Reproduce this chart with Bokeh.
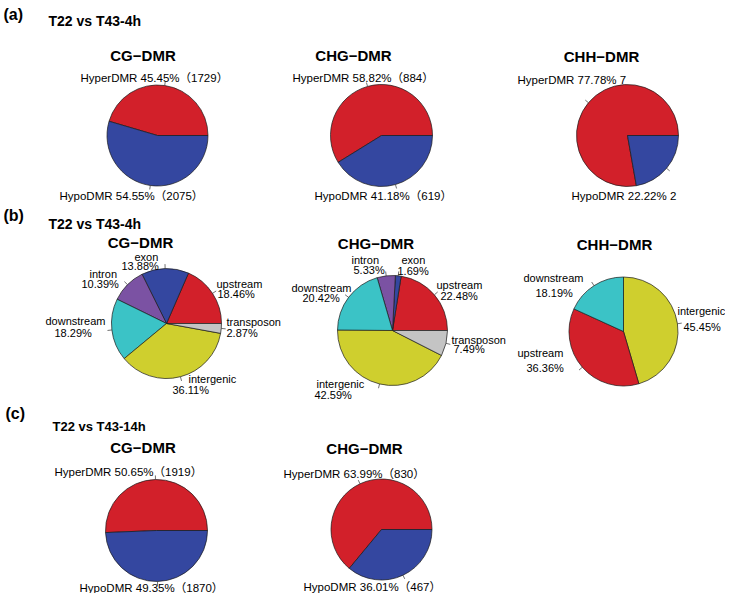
import math
from bokeh.plotting import figure
from bokeh.models import Range1d, ColumnDataSource
from bokeh.embed import file_html
from bokeh.resources import INLINE
from bokeh.core.properties import value

# ---------------- data ----------------
dmr_types = ["HyperDMR", "HypoDMR"]

a_cg_pct = [45.45, 54.55]
a_cg_n = [1729, 2075]
a_chg_pct = [58.82, 41.18]
a_chg_n = [884, 619]
a_chh_pct = [77.78, 22.22]
a_chh_n = [7, 2]

b_cg_regions = ["upstream", "exon", "intron", "downstream", "intergenic", "transposon"]
b_cg_pct = [18.46, 13.88, 10.39, 18.29, 36.11, 2.87]
b_chg_regions = ["upstream", "exon", "intron", "downstream", "intergenic", "transposon"]
b_chg_pct = [22.48, 1.69, 5.33, 20.42, 42.59, 7.49]
b_chh_regions = ["intergenic", "upstream", "downstream"]
b_chh_pct = [45.45, 36.36, 18.19]

c_cg_pct = [50.65, 49.35]
c_cg_n = [1919, 1870]
c_chg_pct = [63.99, 36.01]
c_chg_n = [830, 467]

# ---------------- styles ----------------
COL = {
    "HyperDMR": "#D2202A", "HypoDMR": "#3447A0",
    "upstream": "#D2202A", "exon": "#3447A0", "intron": "#7B52A3",
    "downstream": "#3BC3C6", "intergenic": "#CFCF2E", "transposon": "#C4C4C4",
}
FONT = value("Liberation Sans, Noto Sans CJK SC, sans-serif")

FW, FH = 725, 593


def Y(v):
    return FH - v


p = figure(width=FW, height=FH, x_range=Range1d(0, FW), y_range=Range1d(0, FH),
           output_backend="svg", toolbar_location=None, x_axis_type=None, y_axis_type=None,
           min_border=0, outline_line_color=None, background_fill_color="white")
p.grid.visible = False


def pie(cx, cy, r, vals, names, clockwise=False, start=0.0, tick=1.08):
    tot = float(sum(vals))
    starts, ends, mids = [], [], []
    acc = 0.0
    for v in vals:
        a0 = acc / tot * 360.0
        acc += v
        a1 = acc / tot * 360.0
        if clockwise:
            s, e = start - a1, start - a0
        else:
            s, e = start + a0, start + a1
        starts.append(math.radians(s))
        ends.append(math.radians(e))
        mids.append(math.radians((s + e) / 2.0))
    n = len(vals)
    src = ColumnDataSource(dict(x=[cx] * n, y=[Y(cy)] * n, s=starts, e=ends,
                                c=[COL[k] for k in names]))
    p.wedge(x="x", y="y", radius=r, start_angle="s", end_angle="e", fill_color="c",
            line_color="#1a1a1a", line_width=0.7, source=src)
    tsrc = ColumnDataSource(dict(
        x0=[cx + r * math.cos(m) for m in mids], y0=[Y(cy) + r * math.sin(m) for m in mids],
        x1=[cx + tick * r * math.cos(m) for m in mids], y1=[Y(cy) + tick * r * math.sin(m) for m in mids]))
    p.segment(x0="x0", y0="y0", x1="x1", y1="y1", line_color="#333333", line_width=0.7, source=tsrc)


def texts(xs, ys, ts, size, bold=False, align="left"):
    src = ColumnDataSource(dict(x=xs, y=[Y(v) for v in ys], t=ts))
    p.text(x="x", y="y", text="t", source=src, text_font=FONT, text_font_size=size,
           text_font_style="bold" if bold else "normal", text_align=align,
           text_baseline="middle", text_color="black")


# ---------------- panel (a) ----------------
pie(157, 135, 50.5, a_cg_pct, dmr_types)
pie(381, 135, 51, a_chg_pct, dmr_types)
pie(627, 135, 51, a_chh_pct, dmr_types)

a_lab_x = [80, 59, 292, 314, 517, 571]
a_lab_y = [77, 195, 77, 195, 79, 195]
a_lab_t = []
for pct, cnt in ((a_cg_pct, a_cg_n), (a_chg_pct, a_chg_n)):
    for k, v, c in zip(dmr_types, pct, cnt):
        a_lab_t.append(f"{k} {v:.2f}%\uff08{c}\uff09")
for k, v, c in zip(dmr_types, a_chh_pct, a_chh_n):
    a_lab_t.append(f"{k} {v:.2f}% {c}")
texts(a_lab_x, a_lab_y, a_lab_t, "11.5px")

# ---------------- panel (b) ----------------
pie(166, 323, 55, b_cg_pct, b_cg_regions)
pie(392, 330, 55, b_chg_pct, b_chg_regions)
pie(623, 331, 54.5, b_chh_pct, b_chh_regions, clockwise=True, start=90.0)

b_cg_pos = [(216, 283, 217, 293), (134, 256, 121, 265), (89, 273, 81, 283),
            (45, 320, 54, 332), (188, 378, 172, 389), (226, 321, 226, 332)]
b_chg_pos = [(436, 284, 440, 295), (401, 259, 397, 270), (351, 259, 353, 269),
             (291, 287, 302, 297), (316, 383, 314, 394), (451, 339, 453, 348)]
b_chh_pos = [(677, 310, 683, 326), (517, 352, 526, 367), (523, 277, 535, 292)]

bx, by, bt = [], [], []
for regs, pcts, pos in ((b_cg_regions, b_cg_pct, b_cg_pos),
                        (b_chg_regions, b_chg_pct, b_chg_pos),
                        (b_chh_regions, b_chh_pct, b_chh_pos)):
    for rname, v, (xn, yn, xp, yp) in zip(regs, pcts, pos):
        bx += [xn, xp]
        by += [yn, yp]
        bt += [rname, f"{v:.2f}%"]
texts(bx, by, bt, "11px")

# ---------------- panel (c) ----------------
pie(156, 530, 51, c_cg_pct, dmr_types)
pie(381, 529, 50.5, c_chg_pct, dmr_types)

c_lab_x = [54, 79, 283, 303]
c_lab_y = [471, 587, 473, 586]
c_lab_t = []
for pct, cnt in ((c_cg_pct, c_cg_n), (c_chg_pct, c_chg_n)):
    for k, v, c in zip(dmr_types, pct, cnt):
        c_lab_t.append(f"{k} {v:.2f}%\uff08{c}\uff09")
texts(c_lab_x, c_lab_y, c_lab_t, "11.5px")

# ---------------- titles ----------------
pie_titles = ["CG\u2212DMR", "CHG\u2212DMR", "CHH\u2212DMR",
              "CG\u2212DMR", "CHG\u2212DMR", "CHH\u2212DMR",
              "CG\u2212DMR", "CHG\u2212DMR"]
pt_x = [142.5, 353, 601, 140, 375.5, 614, 142.5, 364]
pt_y = [55, 55, 56, 242, 243, 244, 447, 448]
texts(pt_x, pt_y, pie_titles, "15px", bold=True, align="center")

texts([3, 3, 5], [14, 215, 413], ["(a)", "(b)", "(c)"], "16px", bold=True)
texts([48, 48], [20, 223], ["T22 vs T43-4h", "T22 vs T43-4h"], "14px", bold=True)
texts([52], [426], ["T22 vs  T43-14h"], "13px", bold=True)

open("out.html", "w").write(file_html(p, INLINE))
